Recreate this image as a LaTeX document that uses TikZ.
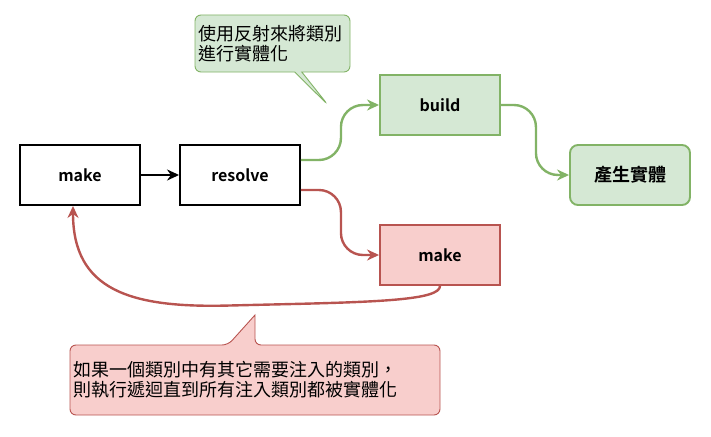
\documentclass[tikz,border=0pt]{standalone}
\usepackage{fontspec}
\setmainfont{Noto Sans CJK TC}[BoldFont={Noto Sans CJK TC Bold}]
\usetikzlibrary{arrows.meta}
\usetikzlibrary{shapes.callouts}

\definecolor{okfill}{HTML}{D5E8D4}
\definecolor{okline}{HTML}{82B366}
\definecolor{badfill}{HTML}{F8CECC}
\definecolor{badline}{HTML}{B85450}

\begin{document}
\begin{tikzpicture}[x=1pt, y=-1pt,
    box/.style={rectangle, draw, line width=1.9pt, minimum width=120pt, minimum height=60pt,
      font=\bfseries\fontsize{16}{19}\selectfont},
    link/.style={line width=2.4pt, -{Stealth[length=12pt, width=11pt]}, rounded corners=22pt},
    note/.style={rectangle callout, rounded corners=6pt, line width=0.9pt, inner sep=3pt,
      align=left, font=\fontsize{18}{20}\selectfont}
    ]
    \useasboundingbox (0,0) rectangle (711,436);

    \node[box] (make) at (80,175) {make};
    \node[box] (resolve) at (240,175) {resolve};
    \node[box, fill=okfill, draw=okline] (build) at (440,105) {build};
    \node[box, fill=badfill, draw=badline] (makeagain) at (440,255) {make};
    \node[box, fill=okfill, draw=okline, rounded corners=8pt,
      font=\bfseries\fontsize{18}{20}\selectfont] (instance) at (630,175) {產生實體};

    \node[note, fill=okfill, draw=okline, minimum width=155pt, minimum height=57pt,
      text width=149pt, callout absolute pointer={(328,105)}] (note1) at (272.5,43.5)
      {使用反射來將類別\\進行實體化};
    % outline of the lower note, its pointer is lopsided
    \draw[badline, fill=badfill, line width=0.9pt, rounded corners=6pt]
      (70,380) -- (70,345) -- (228,345) [sharp corners] -- (255,315)
      [rounded corners=6pt] -- (255,345) -- (440,345) -- (440,415) -- (70,415) -- cycle;
    \node[inner sep=3pt, text width=364pt, align=left, font=\fontsize{18}{20}\selectfont]
      (note2) at (255,380)
      {如果一個類別中有其它需要注入的類別，\\則執行遞迴直到所有注入類別都被實體化};

    \draw[link] (make) -- (resolve);
    \draw[link, okline] ([yshift=15pt]resolve.east) -- ++(40,0) |- (build.west);
    \draw[link, okline] (build.east) -- ++(35,0) |- (instance.west);
    \draw[link, badline] ([yshift=-15pt]resolve.east) -- ++(40,0) |- (makeagain.west);
    \draw[link, badline] (makeagain.south) .. controls (440,300) and (380,302) .. (250,305)
      .. controls (130,308) and (73,290) .. ([xshift=-7pt]make.south);
  \end{tikzpicture}
\end{document}
